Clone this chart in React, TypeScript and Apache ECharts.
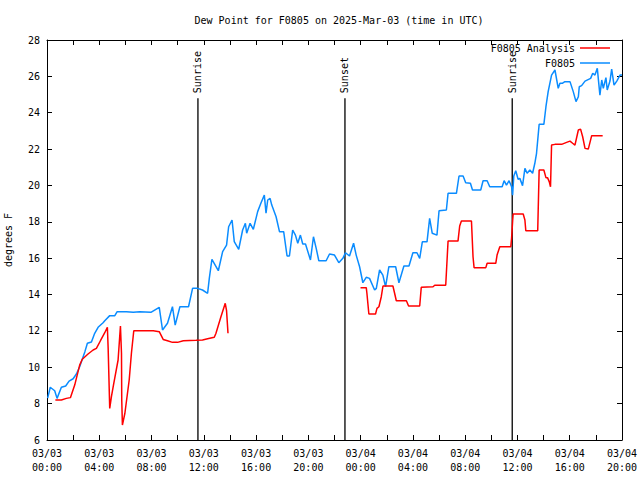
import React, { useEffect, useRef } from "react";
import * as echarts from "echarts";

// Observations (F0805): hours since 03/03 00:00 UTC and dew point (°F)
const obsHours = [
  0.05, 0.25, 0.59, 0.77, 1.1, 1.43, 1.69, 2.0, 2.25, 2.5, 2.7, 2.9, 3.09, 3.4, 3.65, 3.91, 4.29, 4.42, 4.8, 5.19,
  5.37, 6.08, 6.6, 7.1, 7.95, 8.59, 8.84, 9.22, 9.6, 9.81, 10.17, 10.83, 11.14, 11.52, 11.9, 12.29, 12.42, 12.62, 13.11, 13.44,
  13.74, 13.9, 14.16, 14.33, 14.67, 14.97, 15.18, 15.28, 15.54, 15.79, 16.12, 16.38, 16.63, 16.76, 16.89, 17.07, 17.2, 17.53, 17.79, 18.11,
  18.37, 18.55, 18.8, 19.01, 19.19, 19.39, 19.57, 19.78, 20.16, 20.39, 20.6, 20.8, 21.36, 21.62, 22.0, 22.33, 22.64, 22.84, 23.15, 23.46,
  23.66, 23.92, 24.17, 24.43, 24.68, 25.07, 25.2, 25.45, 25.7, 25.91, 26.16, 26.68, 26.93, 27.31, 27.7, 28.0, 28.31, 28.52, 28.72, 29.08,
  29.28, 29.48, 29.84, 30.0, 30.56, 30.69, 31.33, 31.53, 31.84, 32.04, 32.4, 32.56, 33.19, 33.37, 33.68, 33.88, 34.83, 34.98, 35.16, 35.36,
  35.55, 35.63, 35.72, 35.87, 36.05, 36.18, 36.39, 36.57, 36.74, 36.95, 37.16, 37.33, 37.46, 37.66, 38.02, 38.18, 38.35, 38.61, 38.87, 39.12,
  39.25, 39.43, 39.63, 40.02, 40.27, 40.48, 40.66, 40.73, 40.91, 41.17, 41.6, 41.76, 41.93, 42.11, 42.31, 42.45, 42.57, 42.77, 42.87, 43.08,
  43.21, 43.39, 43.6, 43.85, 44.0,
];
const obsValues = [
  8.3, 8.9, 8.71, 8.29, 8.9, 8.97, 9.24, 9.37, 9.63, 10.03, 10.44, 10.86, 11.32, 11.39, 11.87, 12.2, 12.45, 12.56, 12.84, 12.84,
  13.06, 13.06, 13.02, 13.06, 13.02, 13.3, 12.05, 12.42, 13.33, 12.32, 13.33, 13.33, 14.34, 14.34, 14.25, 14.07, 14.89, 15.94, 15.31, 16.36,
  16.72, 17.73, 18.1, 16.91, 16.49, 17.55, 17.92, 17.37, 17.92, 17.59, 18.56, 19.05, 19.47, 18.47, 19.2, 19.29, 18.92, 18.28, 17.46, 17.46,
  16.12, 16.12, 17.55, 17.27, 16.82, 17.27, 16.78, 16.78, 15.9, 17.18, 16.54, 15.86, 15.86, 16.23, 16.17, 15.75, 15.99, 16.3, 16.12, 16.82,
  16.17, 15.53, 14.65, 14.95, 14.89, 14.25, 14.34, 15.35, 15.07, 14.43, 15.53, 15.53, 14.65, 15.57, 15.57, 16.3, 16.3, 15.99, 16.9, 16.9,
  18.19, 17.37, 17.27, 18.61, 18.65, 19.57, 19.57, 20.52, 20.52, 20.15, 20.12, 19.75, 19.75, 20.26, 20.26, 19.93, 19.93, 20.26, 20.02, 20.26,
  19.93, 19.47, 20.52, 20.81, 20.34, 20.39, 19.99, 20.94, 20.67, 20.85, 20.67, 21.22, 21.77, 23.36, 23.36, 24.33, 25.16, 26.07, 26.35, 25.34,
  25.62, 25.62, 25.71, 25.71, 25.16, 24.61, 24.88, 25.43, 25.49, 25.74, 25.89, 26.17, 26.07, 26.44, 24.97, 25.8, 25.34, 25.93, 25.25, 25.74,
  26.4, 25.52, 25.74, 26.07, 26.07,
];

// Analysis (F0805 Analysis); null marks the data gap
const anaHours = [
  0.64, 1.1, 1.48, 1.79, 2.12, 2.5, 2.7, 3.14, 3.53, 3.78, 4.09, 4.42, 4.62, 4.68, 4.8, 4.93, 5.11, 5.44, 5.62, 5.7,
  5.72, 5.77, 5.96, 6.29, 6.46, 6.64, 8.13, 8.59, 8.89, 9.22, 9.6, 9.99, 10.43, 11.4, 11.9, 12.29, 12.8, 12.93, 13.31, 13.64,
  13.74, 13.85, 18.0,
  23.99, 24.43, 24.48, 24.63, 25.14, 25.25, 25.4, 25.58, 25.71, 26.47, 26.6, 26.73, 27.5, 27.67, 28.52, 28.64, 29.54, 29.67, 30.51, 30.56,
  30.69, 31.45, 31.58, 31.71, 32.48, 32.6, 32.68, 33.58, 33.68, 34.34, 34.44, 34.65, 35.49, 35.55, 35.63, 35.67, 36.44, 36.57, 36.64, 37.55,
  37.66, 38.02, 38.18, 38.3, 38.43, 38.53, 38.61, 38.87, 39.38, 39.76, 40.02, 40.22, 40.4, 40.66, 40.83, 40.99, 41.17, 41.42, 41.55, 41.68,
  42.52,
];
const anaValues = [
  8.2, 8.2, 8.29, 8.33, 9.02, 10.12, 10.44, 10.73, 10.95, 11.04, 11.46, 11.9, 12.2, 11.04, 7.74, 8.38, 9.12, 10.4, 12.27, 10.77,
  8.2, 6.82, 7.47, 9.3, 10.77, 12.01, 12.01, 11.96, 11.53, 11.46, 11.37, 11.37, 11.46, 11.48, 11.5, 11.57, 11.65, 11.87, 12.78, 13.52,
  13.11, 11.87, null,
  14.38, 14.38, 14.07, 12.93, 12.93, 13.24, 13.33, 13.88, 14.47, 14.47, 14.07, 13.66, 13.66, 13.37, 13.37, 14.4, 14.43, 14.51, 14.51, 15.17,
  16.94, 16.94, 17.77, 18.04, 18.04, 16.08, 15.48, 15.48, 15.72, 15.72, 16.17, 16.63, 16.63, 17.09, 18.04, 18.43, 18.43, 18.1, 17.51, 17.51,
  20.85, 20.85, 20.43, 20.43, 20.21, 19.93, 22.22, 22.26, 22.26, 22.37, 22.44, 22.32, 22.22, 23.05, 23.1, 22.68, 22.04, 22.0, 22.37, 22.74,
  22.74,
];

const eventNames = ["Sunrise", "Sunset", "Sunrise"];
const eventHours = [11.55, 22.8, 35.6];
const eventBottom = 6;
const eventTop = 24.8;

const seriesNames = ["F0805 Analysis", "F0805"];
const seriesColors = ["#ff0000", "#0a8cff"];
const dayLabels = ["03/03", "03/04"];

const FONT = "DejaVu Sans Mono";

function fmtHour(h: number): string {
  const day = dayLabels[Math.floor(h / 24)] ?? dayLabels[dayLabels.length - 1];
  const hh = String(Math.round(h) % 24).padStart(2, "0");
  return `${day}\n${hh}:00`;
}

export default function App() {
  const ref = useRef<HTMLDivElement>(null);
  useEffect(() => {
    if (!ref.current) return;
    const chart = echarts.init(ref.current, null, { renderer: "svg" });
    const axisLine = { show: true, onZero: false, lineStyle: { color: "#000", width: 1 } };
    const tick = { show: true, inside: true, length: 5, lineStyle: { color: "#000", width: 1 } };
    const minor = { show: true, splitNumber: 2, length: 5, lineStyle: { color: "#000", width: 1 } };
    const xBase = { type: "value", min: 0, max: 44, interval: 4, splitLine: { show: false } };
    const yBase = { type: "value", min: 6, max: 28, interval: 2, splitLine: { show: false } };

    const eventSeries = eventHours.map((h) => ({
      type: "line",
      silent: true,
      symbol: "none",
      xAxisIndex: 0,
      yAxisIndex: 0,
      lineStyle: { color: "#000", width: 1.3 },
      data: [
        [h, eventBottom],
        [h, eventTop],
      ],
      z: 1,
    }));

    chart.setOption({
      animation: false,
      backgroundColor: "#fff",
      textStyle: { fontFamily: FONT },
      title: {
        text: "Dew Point for F0805 on 2025-Mar-03 (time in UTC)",
        left: 334,
        top: 10,
        textAlign: "center",
        textStyle: { fontFamily: FONT, fontSize: 10, fontWeight: "normal", color: "#000" },
      },
      grid: { left: 47, right: 18, top: 40, bottom: 40, containLabel: false, outerBoundsMode: "none" },
      xAxis: [
        {
          ...xBase,
          position: "bottom",
          axisLine,
          axisTick: tick,
          minorTick: minor,
          axisLabel: {
            formatter: (v: number) => fmtHour(v),
            color: "#000",
            fontFamily: FONT,
            fontSize: 10,
            lineHeight: 14,
            margin: 6,
          },
        },
        {
          ...xBase,
          position: "top",
          axisLine,
          axisTick: tick,
          minorTick: minor,
          axisLabel: { show: false },
        },
      ],
      yAxis: [
        {
          ...yBase,
          position: "left",
          axisLine,
          axisTick: tick,
          axisLabel: { color: "#000", fontFamily: FONT, fontSize: 10, margin: 7 },
          name: "degrees F",
          nameLocation: "middle",
          nameGap: 34,
          nameTextStyle: { color: "#000", fontFamily: FONT, fontSize: 10 },
        },
        {
          ...yBase,
          position: "right",
          axisLine,
          axisTick: tick,
          axisLabel: { show: false },
        },
      ],
      series: [
        {
          name: seriesNames[1],
          type: "line",
          symbol: "none",
          xAxisIndex: 0,
          yAxisIndex: 0,
          lineStyle: { color: seriesColors[1], width: 1.5 },
          data: obsHours.map((h, i) => [h, obsValues[i]]),
          z: 3,
        },
        {
          name: seriesNames[0],
          type: "line",
          symbol: "none",
          connectNulls: false,
          xAxisIndex: 0,
          yAxisIndex: 0,
          lineStyle: { color: seriesColors[0], width: 1.5 },
          data: anaHours.map((h, i) => [h, anaValues[i] === null ? "-" : anaValues[i]]),
          z: 4,
        },
        ...eventSeries,
      ],
    });

    const eventLabels = eventHours.map((h, i) => {
      const p = chart.convertToPixel({ seriesIndex: 0 }, [h, eventTop]) as number[];
      return {
        type: "text",
        x: p[0],
        y: p[1] - 5,
        rotation: Math.PI / 2,
        silent: true,
        style: {
          text: eventNames[i],
          fill: "#000",
          font: `10px ${FONT}`,
          textAlign: "left",
          textVerticalAlign: "middle",
        },
        z: 10,
      };
    });

    const legendItems: any[] = [];
    seriesNames.forEach((name, i) => {
      const y = 48 + i * 15;
      legendItems.push({
        type: "text",
        x: 575,
        y,
        silent: true,
        style: { text: name, fill: "#000", font: `10px ${FONT}`, textAlign: "right", textVerticalAlign: "middle" },
        z: 10,
      });
      legendItems.push({
        type: "line",
        silent: true,
        shape: { x1: 580, y1: y, x2: 610, y2: y },
        style: { stroke: seriesColors[i], lineWidth: 1.5 },
        z: 10,
      });
    });

    chart.setOption({ graphic: [...eventLabels, ...legendItems] });

    return () => chart.dispose();
  }, []);

  return (
    <div
      ref={ref}
      style={{ position: "fixed", left: 0, top: 0, width: 640, height: 480, background: "#fff" }}
    />
  );
}
